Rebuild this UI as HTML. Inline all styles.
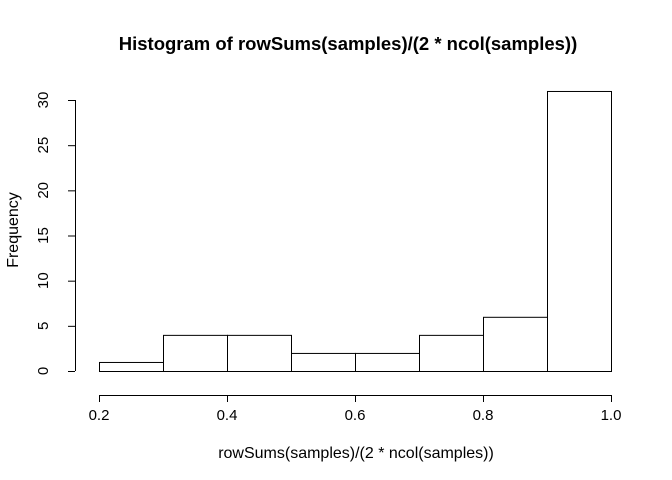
<!DOCTYPE html>
<html><head><meta charset="utf-8"><style>
html,body{margin:0;padding:0;background:#fff;}
svg{display:block;font-family:"Liberation Sans",Arial,sans-serif;}
</style></head><body>
<svg id="chart" width="672" height="480">
<text x="348" y="50" text-anchor="middle" font-size="18.5" font-weight="bold">Histogram of rowSums(samples)/(2 * ncol(samples))</text>
<text x="356" y="458" text-anchor="middle" font-size="16">rowSums(samples)/(2 * ncol(samples))</text>
<text x="18" y="230" text-anchor="middle" font-size="16" transform="rotate(-90 18 230)">Frequency</text>
<g id="bars"></g>
<g id="xaxis"></g>
<g id="yaxis"></g>
</svg>
<script>
const binStarts = [0.2,0.3,0.4,0.5,0.6,0.7,0.8,0.9];
const binWidth = 0.1;
const counts = [1,4,4,2,2,4,6,31];
const xTicks = [0.2,0.4,0.6,0.8,1.0];
const xTickLabels = ["0.2","0.4","0.6","0.8","1.0"];
const yTicks = [0,5,10,15,20,25,30];
const NS="http://www.w3.org/2000/svg";
function sx(v){return 99+(v-0.2)*640;}
function sy(v){return 371-v*9.033;}
function mk(t,a){const e=document.createElementNS(NS,t);for(const k in a)e.setAttribute(k,a[k]);return e;}
const bars=document.getElementById('bars');
counts.forEach((c,i)=>{
 const x0=sx(binStarts[i]),x1=sx(binStarts[i]+binWidth);
 const r=mk('rect',{x:x0+0.5,y:sy(c)+0.5,width:x1-x0,height:sy(0)-sy(c),fill:'#fff',stroke:'#000','stroke-width':1});
 
 
 bars.appendChild(r);
});
const xa=document.getElementById('xaxis');
xa.appendChild(mk('line',{x1:sx(xTicks[0]),x2:sx(xTicks[xTicks.length-1]),y1:395.5,y2:395.5,stroke:'#000'}));
xTicks.forEach((v,i)=>{
 xa.appendChild(mk('line',{x1:sx(v)+0.5,x2:sx(v)+0.5,y1:395,y2:402,stroke:'#000'}));
 const t=mk('text',{x:sx(v),y:420,'text-anchor':'middle','font-size':15});
 t.textContent=xTickLabels[i];
 
 
 xa.appendChild(t);
});
const ya=document.getElementById('yaxis');
ya.appendChild(mk('line',{x1:75.5,x2:75.5,y1:sy(yTicks[0]),y2:sy(yTicks[yTicks.length-1]),stroke:'#000'}));
yTicks.forEach(v=>{
 ya.appendChild(mk('line',{x1:68,x2:75,y1:sy(v)+0.5,y2:sy(v)+0.5,stroke:'#000'}));
 const t=mk('text',{x:48,y:sy(v),'text-anchor':'middle','font-size':15,transform:`rotate(-90 48 ${sy(v)})`});
 t.textContent=String(v);
 
 
 ya.appendChild(t);
});
</script>
</body></html>
